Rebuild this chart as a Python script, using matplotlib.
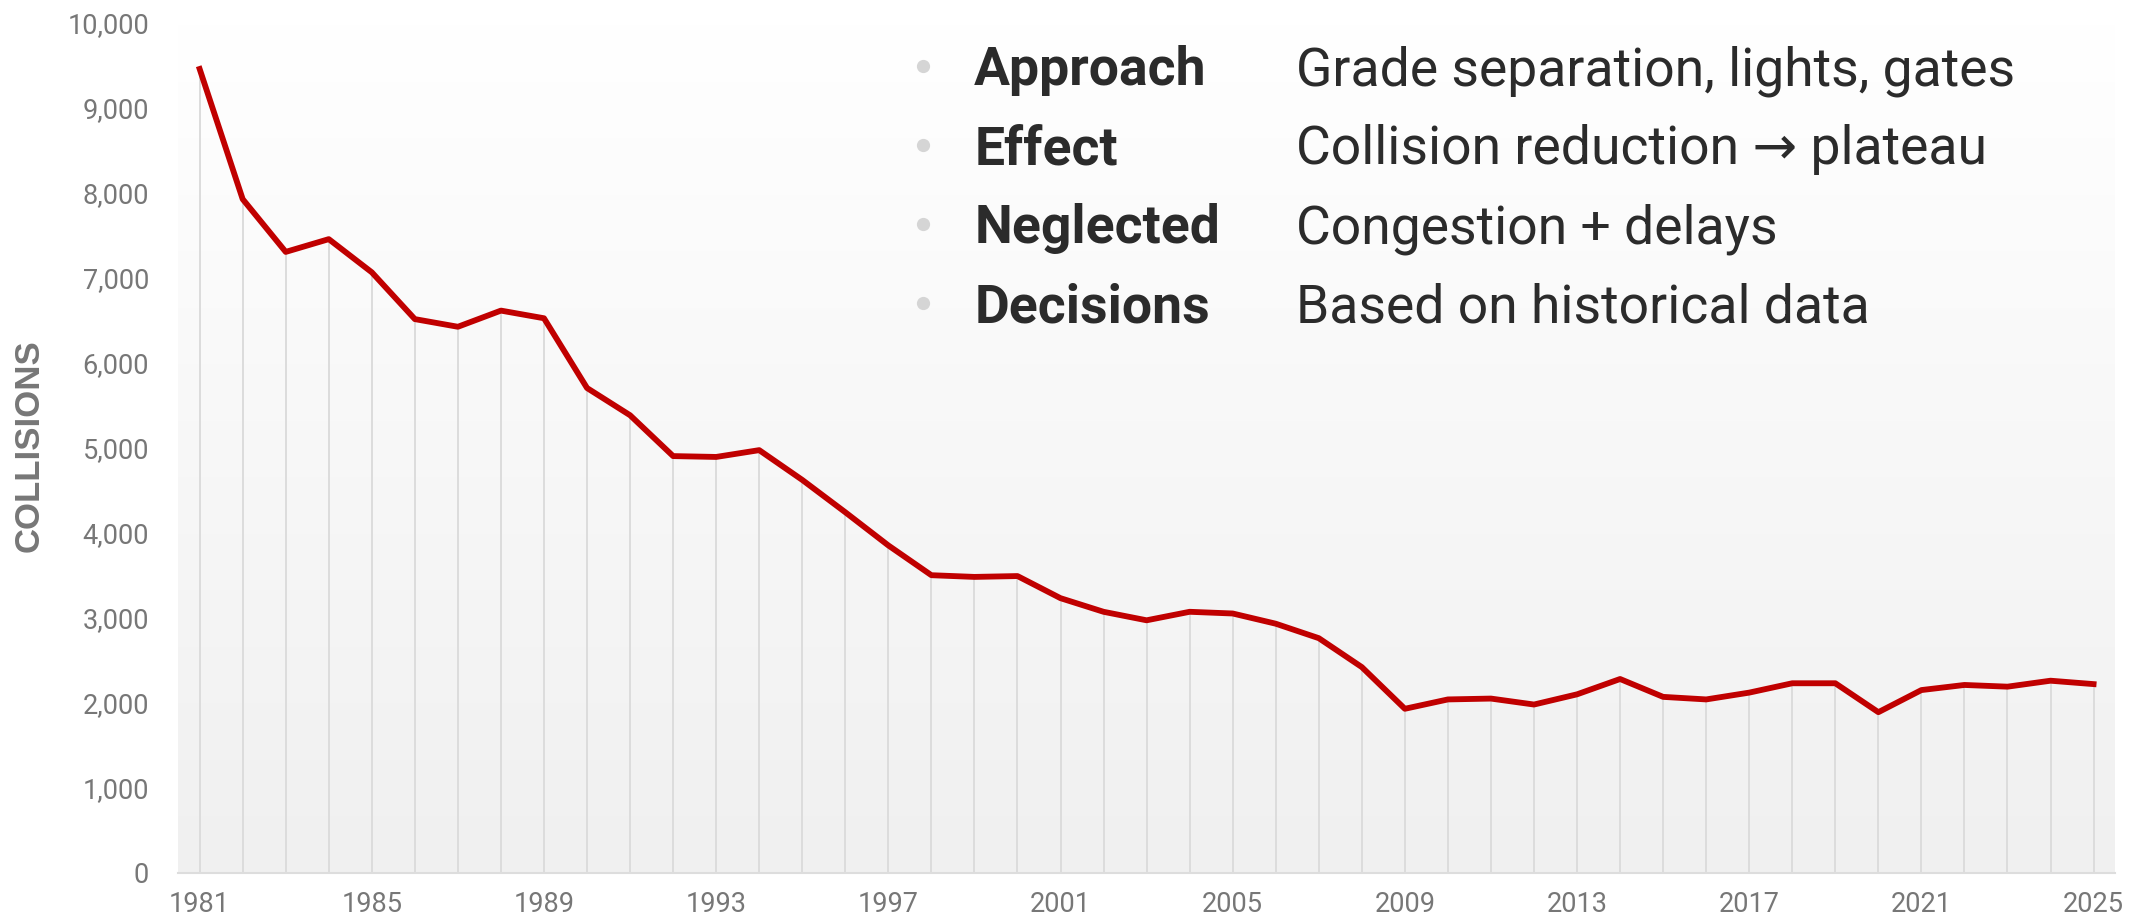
import numpy as np
import matplotlib
matplotlib.use('Agg')
import matplotlib.pyplot as plt

years = list(range(1981, 2026))
collisions = [9450, 7920, 7300, 7450, 7060, 6510, 6420, 6610, 6520, 5700,
              5380, 4900, 4890, 4970, 4620, 4240, 3850, 3500, 3480, 3490,
              3230, 3070, 2970, 3070, 3050, 2930, 2760, 2420, 1930, 2040,
              2050, 1980, 2100, 2280, 2070, 2040, 2120, 2230, 2230, 1890,
              2150, 2210, 2190, 2260, 2220]
tick_years = list(range(1981, 2026, 4))

notes_head = ['Approach', 'Effect', 'Neglected', 'Decisions']
notes_text = ['Grade separation, lights, gates', 'Collision reduction \u2192 plateau',
              'Congestion + delays', 'Based on historical data']

plt.rcParams['font.family'] = ['Roboto', 'DejaVu Sans']

fig = plt.figure(figsize=(21.46, 9.24), dpi=100)
ax = fig.add_axes([0.083, 0.0552, 0.9026, 0.9208])

# soft vertical gradient behind the plot
grad = np.linspace(0, 1, 256).reshape(-1, 1)
ax.imshow(grad, extent=[0, 1, 0, 1], transform=ax.transAxes, aspect='auto',
          cmap=matplotlib.colors.LinearSegmentedColormap.from_list('bg', ['#f0f0f0', '#ffffff']),
          origin='lower', zorder=0)

ax.vlines(years, 0, collisions, color='#dcdcdc', lw=1.4, zorder=1)
ax.plot(years, collisions, color='#c00000', lw=4.2, zorder=3)

ax.set_xlim(1980.5, 2025.5)
ax.set_ylim(0, 10000)
ax.set_xticks(tick_years)
ax.set_yticks(range(0, 10001, 1000))
ax.set_yticklabels([f'{v:,}' for v in range(0, 10001, 1000)])
ax.tick_params(length=0, labelsize=19.5, colors='#777777')
ax.tick_params(axis='y', pad=21)
ax.tick_params(axis='x', pad=13)

for s in ['top', 'right', 'left']:
    ax.spines[s].set_visible(False)
ax.spines['bottom'].set_color('#dddddd')
ax.spines['bottom'].set_linewidth(1.5)

fig.text(29 / 2146, 1 - 446 / 924, 'COLLISIONS', rotation=90, ha='center', va='center',
         fontsize=25, fontweight='bold', color='#777777', family=['Liberation Sans', 'DejaVu Sans'])

base_y = [0.908, 0.8225, 0.737, 0.651]
for i in range(len(notes_head)):
    y = base_y[i]
    ax.plot([0.430], [y + 0.021], 'o', color='#d5d5d5', ms=8.5,
            transform=fig.transFigure, clip_on=False, zorder=5)
    fig.text(0.454, y, notes_head[i], fontsize=38.5, fontweight='bold', color='#2b2b2b', va='baseline')
    fig.text(0.604, y, notes_text[i], fontsize=38.5, color='#2b2b2b', va='baseline')

fig.savefig('out.png', dpi=100)
